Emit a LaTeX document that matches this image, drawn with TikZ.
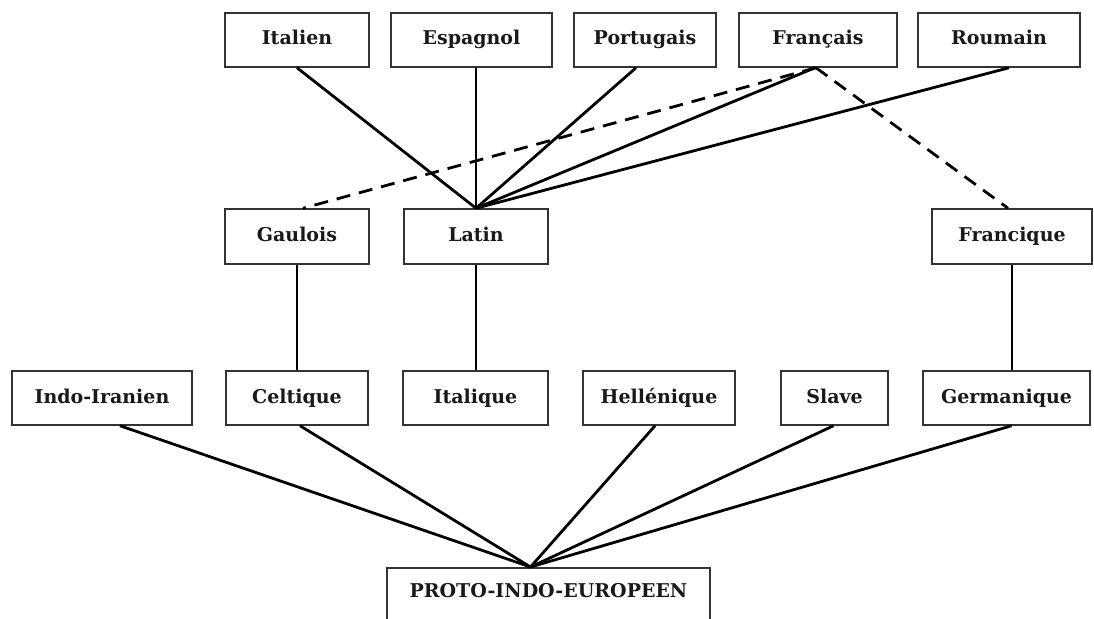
\documentclass[tikz,border=0pt]{standalone}
\usepackage{fontspec}
\setmainfont{DejaVu Serif}
\usetikzlibrary{calc}
\begin{document}
\begin{tikzpicture}[x=1pt,y=-1pt,
  box/.style={draw=black!80, line width=1.5pt, rectangle, inner sep=0pt,
    minimum height=54pt, text height=14pt, text depth=4pt,
    font=\fontsize{19}{22}\selectfont\bfseries, text=black!90},
  link/.style={line width=2.8pt},
  dlink/.style={line width=2.8pt, dash pattern=on 14pt off 9pt}]
\useasboundingbox (0,0) rectangle (1094,618);
\clip (0,0) rectangle (1094,618);
% top row
\node[box, minimum width=144pt] (italien)   at (297,40)   {Italien};
\node[box, minimum width=161pt] (espagnol)  at (471.5,40) {Espagnol};
\node[box, minimum width=142pt] (portugais) at (645,40)   {Portugais};
\node[box, minimum width=158pt] (francais)  at (818,40)   {Français};
\node[box, minimum width=162pt] (roumain)   at (999,40)   {Roumain};
% middle row
\node[box, minimum width=144pt, minimum height=55pt] (gaulois)   at (297,236.5)  {Gaulois};
\node[box, minimum width=144pt, minimum height=55pt] (latin)     at (476,236.5)  {Latin};
\node[box, minimum width=160pt, minimum height=55pt] (francique) at (1012,236.5) {Francique};
% bottom row
\node[box, minimum width=180pt] (indo)       at (102,398)    {Indo-Iranien};
\node[box, minimum width=142pt] (celtique)   at (297,398)    {Celtique};
\node[box, minimum width=145pt] (italique)   at (475.5,398)  {Italique};
\node[box, minimum width=152pt] (hellenique) at (659,398)    {Hellénique};
\node[box, minimum width=107pt] (slave)      at (834.5,398)  {Slave};
\node[box, minimum width=167pt] (germanique) at (1006.5,398) {Germanique};
% root
\node[box, anchor=north, minimum width=323pt, minimum height=0pt,
      text height=30pt, text depth=30pt] (proto) at (548.5,567) {PROTO-INDO-EUROPEEN};
\coordinate (ptop) at ($(proto.north)+(-18,0)$);
% top links
\draw[link] (italien.south) -- (latin.north);
\draw[link] (latin.north |- espagnol.south) -- (latin.north);
\draw[link] ($(portugais.south)+(-9,0)$) -- (latin.north);
\draw[link] ($(francais.south)+(-3,0)$) -- (latin.north);
\draw[link] ($(roumain.south)+(10,0)$) -- (latin.north);
\draw[dlink] ($(francais.south)+(-2,0)$) -- ($(gaulois.north)+(6,0)$);
\draw[dlink] ($(francais.south)+(-2,0)$) -- ($(francique.north)+(-4,0)$);
% middle links
\draw[link] (gaulois.south) -- (celtique.north);
\draw[link] (latin.south) -- (latin.south |- italique.north);
\draw[link] (francique.south) -- (francique.south |- germanique.north);
% bottom links
\draw[link] ($(indo.south)+(18,0)$) -- (ptop);
\draw[link] ($(celtique.south)+(3,0)$) -- (ptop);
\draw[link] ($(hellenique.south)+(-4,0)$) -- (ptop);
\draw[link] ($(slave.south)+(-1,0)$) -- (ptop);
\draw[link] ($(germanique.south)+(5,0)$) -- (ptop);
\end{tikzpicture}
\end{document}
